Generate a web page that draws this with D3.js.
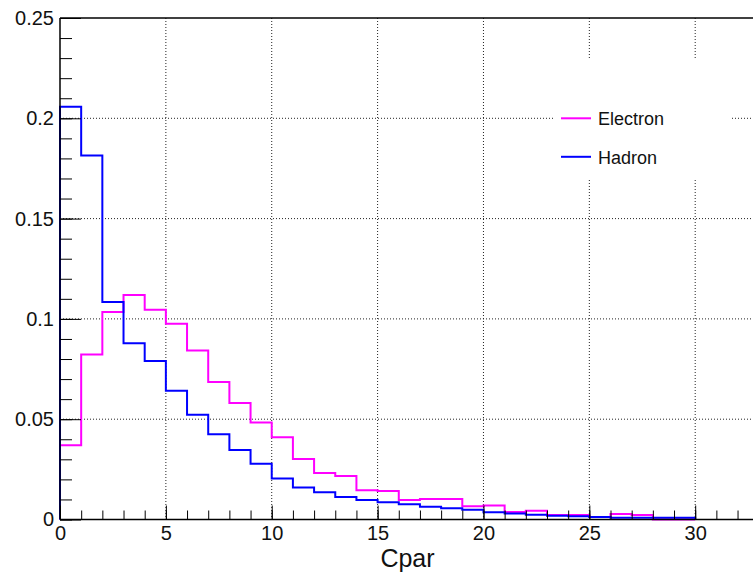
<!DOCTYPE html>
<html>
<head>
<meta charset="utf-8">
<script src="https://cdn.jsdelivr.net/npm/d3@7"></script>
<style>
  body { margin: 0; background: #fff; }
  svg { display: block; font-family: "Liberation Sans", Arial, sans-serif; }
  .grid line { stroke: #222; stroke-width: 1; stroke-dasharray: 1,2; }
</style>
</head>
<body>
<svg id="chart" width="753" height="576"></svg>
<script>
// bin edges: 0..30, width 1
var binEdges = d3.range(0, 31);
var electron = [0.037, 0.0822, 0.1034, 0.1119, 0.1046, 0.0976, 0.0843, 0.0685, 0.0581, 0.0483,
                0.041, 0.0302, 0.0232, 0.0217, 0.0146, 0.0142, 0.0097, 0.0102, 0.0102, 0.0066,
                0.007, 0.0038, 0.0043, 0.0022, 0.0022, 0.0013, 0.0027, 0.0023, 0, 0];
var hadron = [0.2058, 0.1814, 0.1084, 0.0878, 0.079, 0.0642, 0.0522, 0.0425, 0.0346, 0.0278,
              0.0205, 0.016, 0.0136, 0.0112, 0.0097, 0.0086, 0.0076, 0.0064, 0.0056, 0.0048,
              0.0036, 0.003, 0.0024, 0.0019, 0.0016, 0.0013, 0.0009, 0.0009, 0.0009, 0.0009];
var xMajor = [0, 5, 10, 15, 20, 25, 30];
var xMinor = d3.range(0, 33);
var yMajor = [0, 0.05, 0.1, 0.15, 0.2, 0.25];
var yMinor = d3.range(0, 26).map(function(d) { return d / 100; });
var seriesNames = ["Electron", "Hadron"];
var seriesColors = ["#ff00ff", "#0000ff"];

var svg = d3.select("#chart");
var padL = 60, padR = 753, padT = 18, padB = 519.5;

var x = d3.scaleLinear().domain([0, 30]).range([padL, 695.2]);
var xMax = x.invert(padR);
var y = d3.scaleLinear().domain([0, 0.25]).range([padB, padT]);

// grid
var grid = svg.append("g").attr("class", "grid");
grid.selectAll(".gx").data(xMajor.slice(1)).enter().append("line")
  .attr("x1", function(d) { return x(d); }).attr("x2", function(d) { return x(d); })
  .attr("y1", padT).attr("y2", padB);
grid.selectAll(".gy").data(yMajor.slice(1, 5)).enter().append("line")
  .attr("x1", padL).attr("x2", padR)
  .attr("y1", function(d) { return y(d); }).attr("y2", function(d) { return y(d); });

// histograms as step outlines
function stepPoints(vals) {
  var pts = [[0, 0]];
  vals.forEach(function(v, i) {
    pts.push([binEdges[i], v]);
    pts.push([binEdges[i + 1], v]);
  });
  pts.push([binEdges[vals.length], 0]);
  return pts;
}
var line = d3.line().x(function(d) { return x(d[0]); }).y(function(d) { return y(d[1]); });

[electron, hadron].forEach(function(vals, i) {
  svg.append("path")
    .attr("d", line(stepPoints(vals)))
    .attr("fill", "none")
    .attr("stroke", seriesColors[i])
    .attr("stroke-width", 2);
});

// legend box (white, covers grid)
var legend = svg.append("g");
legend.append("rect")
  .attr("x", 555).attr("y", 58).attr("width", 177).attr("height", 121)
  .attr("fill", "#fff");
seriesNames.forEach(function(name, i) {
  var ly = 118.3 + i * 38.5;
  legend.append("line")
    .attr("x1", 561).attr("x2", 591).attr("y1", ly).attr("y2", ly)
    .attr("stroke", seriesColors[i]).attr("stroke-width", 2);
  legend.append("text")
    .attr("x", 598).attr("y", ly + 7)
    .attr("font-size", 18).attr("fill", "#111")
    .text(name);
});

// x axis
var xScaleFull = d3.scaleLinear().domain([0, xMax]).range([padL, padR]);
svg.append("g")
  .attr("transform", "translate(0," + padB + ")")
  .call(d3.axisBottom(xScaleFull).tickValues(xMinor).tickSize(-9).tickFormat(""))
  .call(function(g) { g.select(".domain").remove(); });
svg.append("g")
  .attr("transform", "translate(0," + padB + ")")
  .attr("font-size", 20)
  .attr("font-family", "Liberation Sans, Arial, sans-serif")
  .call(d3.axisBottom(xScaleFull).tickValues(xMajor).tickSize(-14).tickPadding(6).tickFormat(d3.format("d")))
  .call(function(g) {
    g.select(".domain").remove();
    g.selectAll("text").attr("font-size", 20).attr("fill", "#111");
  });

// y axis
svg.append("g")
  .attr("transform", "translate(" + padL + ",0)")
  .call(d3.axisLeft(y).tickValues(yMinor).tickSize(-12).tickFormat(""))
  .call(function(g) { g.select(".domain").remove(); });
svg.append("g")
  .attr("transform", "translate(" + padL + ",0)")
  .call(d3.axisLeft(y).tickValues(yMajor).tickSize(-21).tickPadding(6).tickFormat(function(d) { return d === 0 ? "0" : String(+d.toFixed(2)); }))
  .call(function(g) {
    g.select(".domain").remove();
    g.attr("font-size", 20).attr("font-family", "Liberation Sans, Arial, sans-serif");
    g.selectAll("text").attr("font-size", 20).attr("fill", "#111");
  });

// frame
svg.append("line").attr("x1", padL).attr("x2", padR).attr("y1", padB).attr("y2", padB)
  .attr("stroke", "#000").attr("stroke-width", 1.5);
svg.append("line").attr("x1", padL).attr("x2", padR).attr("y1", padT).attr("y2", padT)
  .attr("stroke", "#000").attr("stroke-width", 1.5);
svg.append("line").attr("x1", padL).attr("x2", padL).attr("y1", padT).attr("y2", padB)
  .attr("stroke", "#000").attr("stroke-width", 1.5);

// axis title
svg.append("text")
  .attr("x", (padL + padR) / 2 + 1)
  .attr("y", 567)
  .attr("text-anchor", "middle")
  .attr("font-size", 25)
  .attr("fill", "#111")
  .text("Cpar");
</script>
</body>
</html>
